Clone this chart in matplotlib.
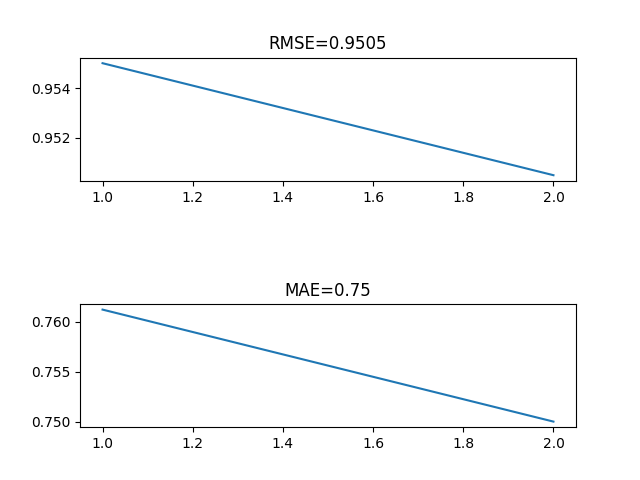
import matplotlib
matplotlib.use("Agg")
import matplotlib.pyplot as plt

# ── data ──────────────────────────────────────────────────────────────────────
epochs = [1.0, 2.0]
rmse   = [0.9550, 0.9505]
mae    = [0.7612, 0.7500]

fig, axes = plt.subplots(2, 1, figsize=(6.4, 4.8), dpi=100)

axes[0].plot(epochs, rmse)
axes[0].set_title(f"RMSE={rmse[-1]:.4f}")

axes[1].plot(epochs, mae)
axes[1].set_title(f"MAE={mae[-1]:.2f}")

plt.subplots_adjust(hspace=1.0)
fig.savefig("out.png", dpi=100)
